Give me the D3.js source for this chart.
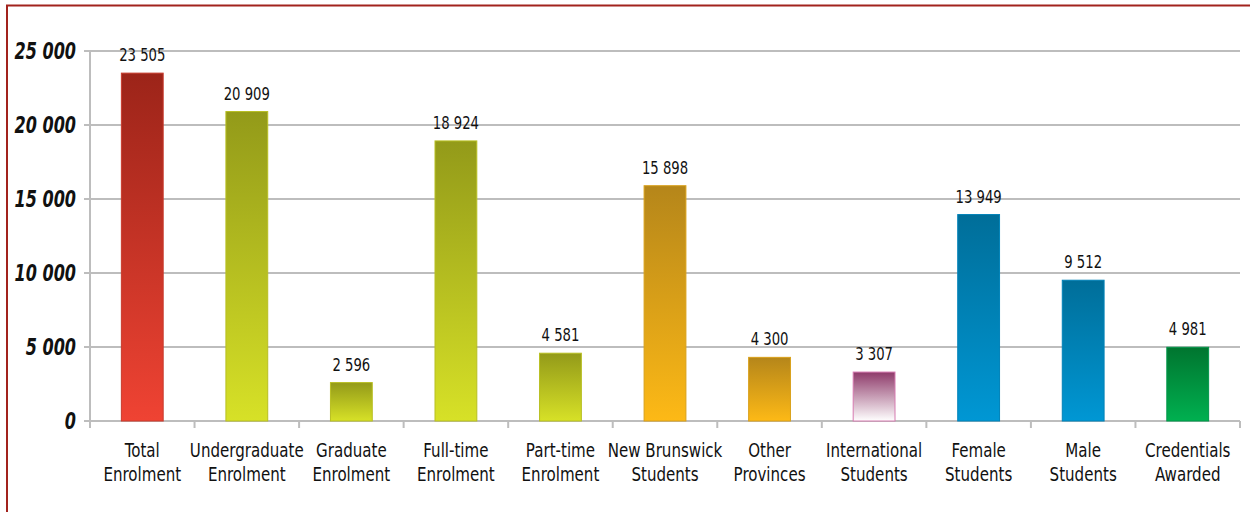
<!DOCTYPE html>
<html><head><meta charset="utf-8">
<script src="https://cdn.jsdelivr.net/npm/d3@7"></script>
<style>body{margin:0;background:#fff}svg{display:block}</style>
</head><body><svg id="c" width="1250" height="512"></svg>
<script>
const categories = [["Total","Enrolment"],["Undergraduate","Enrolment"],["Graduate","Enrolment"],["Full-time","Enrolment"],["Part-time","Enrolment"],["New Brunswick","Students"],["Other","Provinces"],["International","Students"],["Female","Students"],["Male","Students"],["Credentials","Awarded"]];
const values = [23505,20909,2596,18924,4581,15898,4300,3307,13949,9512,4981];
const valueLabels = ["23 505","20 909","2 596","18 924","4 581","15 898","4 300","3 307","13 949","9 512","4 981"];
const yTicks = [0,5000,10000,15000,20000,25000];
const yTickLabels = ["0","5 000","10 000","15 000","20 000","25 000"];
const gradTop = ["#9c2419","#939a19","#939a19","#939a19","#939a19","#b5861a","#b5861a","#8e3a6a","#006e99","#006e99","#00752f"];
const gradBot = ["#ef4333","#d7e127","#d7e127","#d7e127","#d7e127","#fdb916","#fdb916","#ffffff","#0097d4","#0097d4","#00b050"];
const strokes = ["#c83a2c","#b8bf22","#b8bf22","#b8bf22","#b8bf22","#d9a01a","#d9a01a","#d67ab0","#0082b8","#0082b8","#00974a"];

const svg = d3.select("#c");
const font = "'DejaVu Sans Condensed','DejaVu Sans',sans-serif";
svg.append("rect").attr("x",7).attr("y",5.5).attr("width",1260).attr("height",520).attr("fill","none").attr("stroke","#a2231d").attr("stroke-width",2);

const x0 = 90, x1 = 1240;
const x = d3.scaleBand().domain(d3.range(values.length)).range([x0,x1]).paddingInner(0).paddingOuter(0);
const y = d3.scaleLinear().domain([0,25000]).range([421,51]);

const defs = svg.append("defs");
values.forEach((v,i)=>{
  const g = defs.append("linearGradient").attr("id","g"+i).attr("x1",0).attr("y1",0).attr("x2",0).attr("y2",1);
  g.append("stop").attr("offset","0%").attr("stop-color",gradTop[i]);
  g.append("stop").attr("offset","100%").attr("stop-color",gradBot[i]);
});

svg.append("g").selectAll("line").data(yTicks).join("line")
  .attr("x1",x0-6).attr("x2",x1).attr("y1",d=>y(d)).attr("y2",d=>y(d))
  .attr("stroke","#bdbdbd").attr("stroke-width",2);
svg.append("line").attr("x1",x0).attr("x2",x0).attr("y1",y(25000)).attr("y2",y(0)+6).attr("stroke","#bdbdbd").attr("stroke-width",2);
svg.append("g").selectAll("line").data(d3.range(values.length+1)).join("line")
  .attr("x1",d=>x0+d*x.bandwidth()).attr("x2",d=>x0+d*x.bandwidth())
  .attr("y1",y(0)).attr("y2",y(0)+7).attr("stroke","#bdbdbd").attr("stroke-width",2);

svg.append("g").selectAll("text").data(yTicks).join("text")
  .attr("transform",d=>`translate(76,${y(d)+8}) scale(0.76,1)`).attr("text-anchor","end")
  .attr("font-family",font).attr("font-size",23.5).attr("font-weight","bold").attr("font-style","italic")
  .attr("fill","#111").text((d,i)=>yTickLabels[i]);

const bw = x.bandwidth()*0.4;
svg.append("g").selectAll("rect").data(values).join("rect")
  .attr("x",(d,i)=>x(i)+x.bandwidth()/2-bw/2).attr("width",bw)
  .attr("y",d=>y(d)).attr("height",d=>y(0)-y(d))
  .attr("fill",(d,i)=>`url(#g${i})`).attr("stroke",(d,i)=>strokes[i]).attr("stroke-width",1);

svg.append("g").selectAll("text").data(values).join("text")
  .attr("transform",(d,i)=>`translate(${x(i)+x.bandwidth()/2},${y(d)-12}) scale(0.84,1)`)
  .attr("text-anchor","middle").attr("font-family",font).attr("font-size",17.5).attr("fill","#111")
  .text((d,i)=>valueLabels[i]);

const cl = svg.append("g").selectAll("text").data(categories).join("text")
  .attr("transform",(d,i)=>`translate(${x(i)+x.bandwidth()/2},457) scale(0.86,1)`)
  .attr("text-anchor","middle").attr("font-family",font).attr("font-size",19.5).attr("fill","#111");
cl.each(function(d,i){
  const t = d3.select(this);
  d.forEach((s,j)=>t.append("tspan").attr("x",0).attr("y",j*24).text(s));
});
</script></body></html>
